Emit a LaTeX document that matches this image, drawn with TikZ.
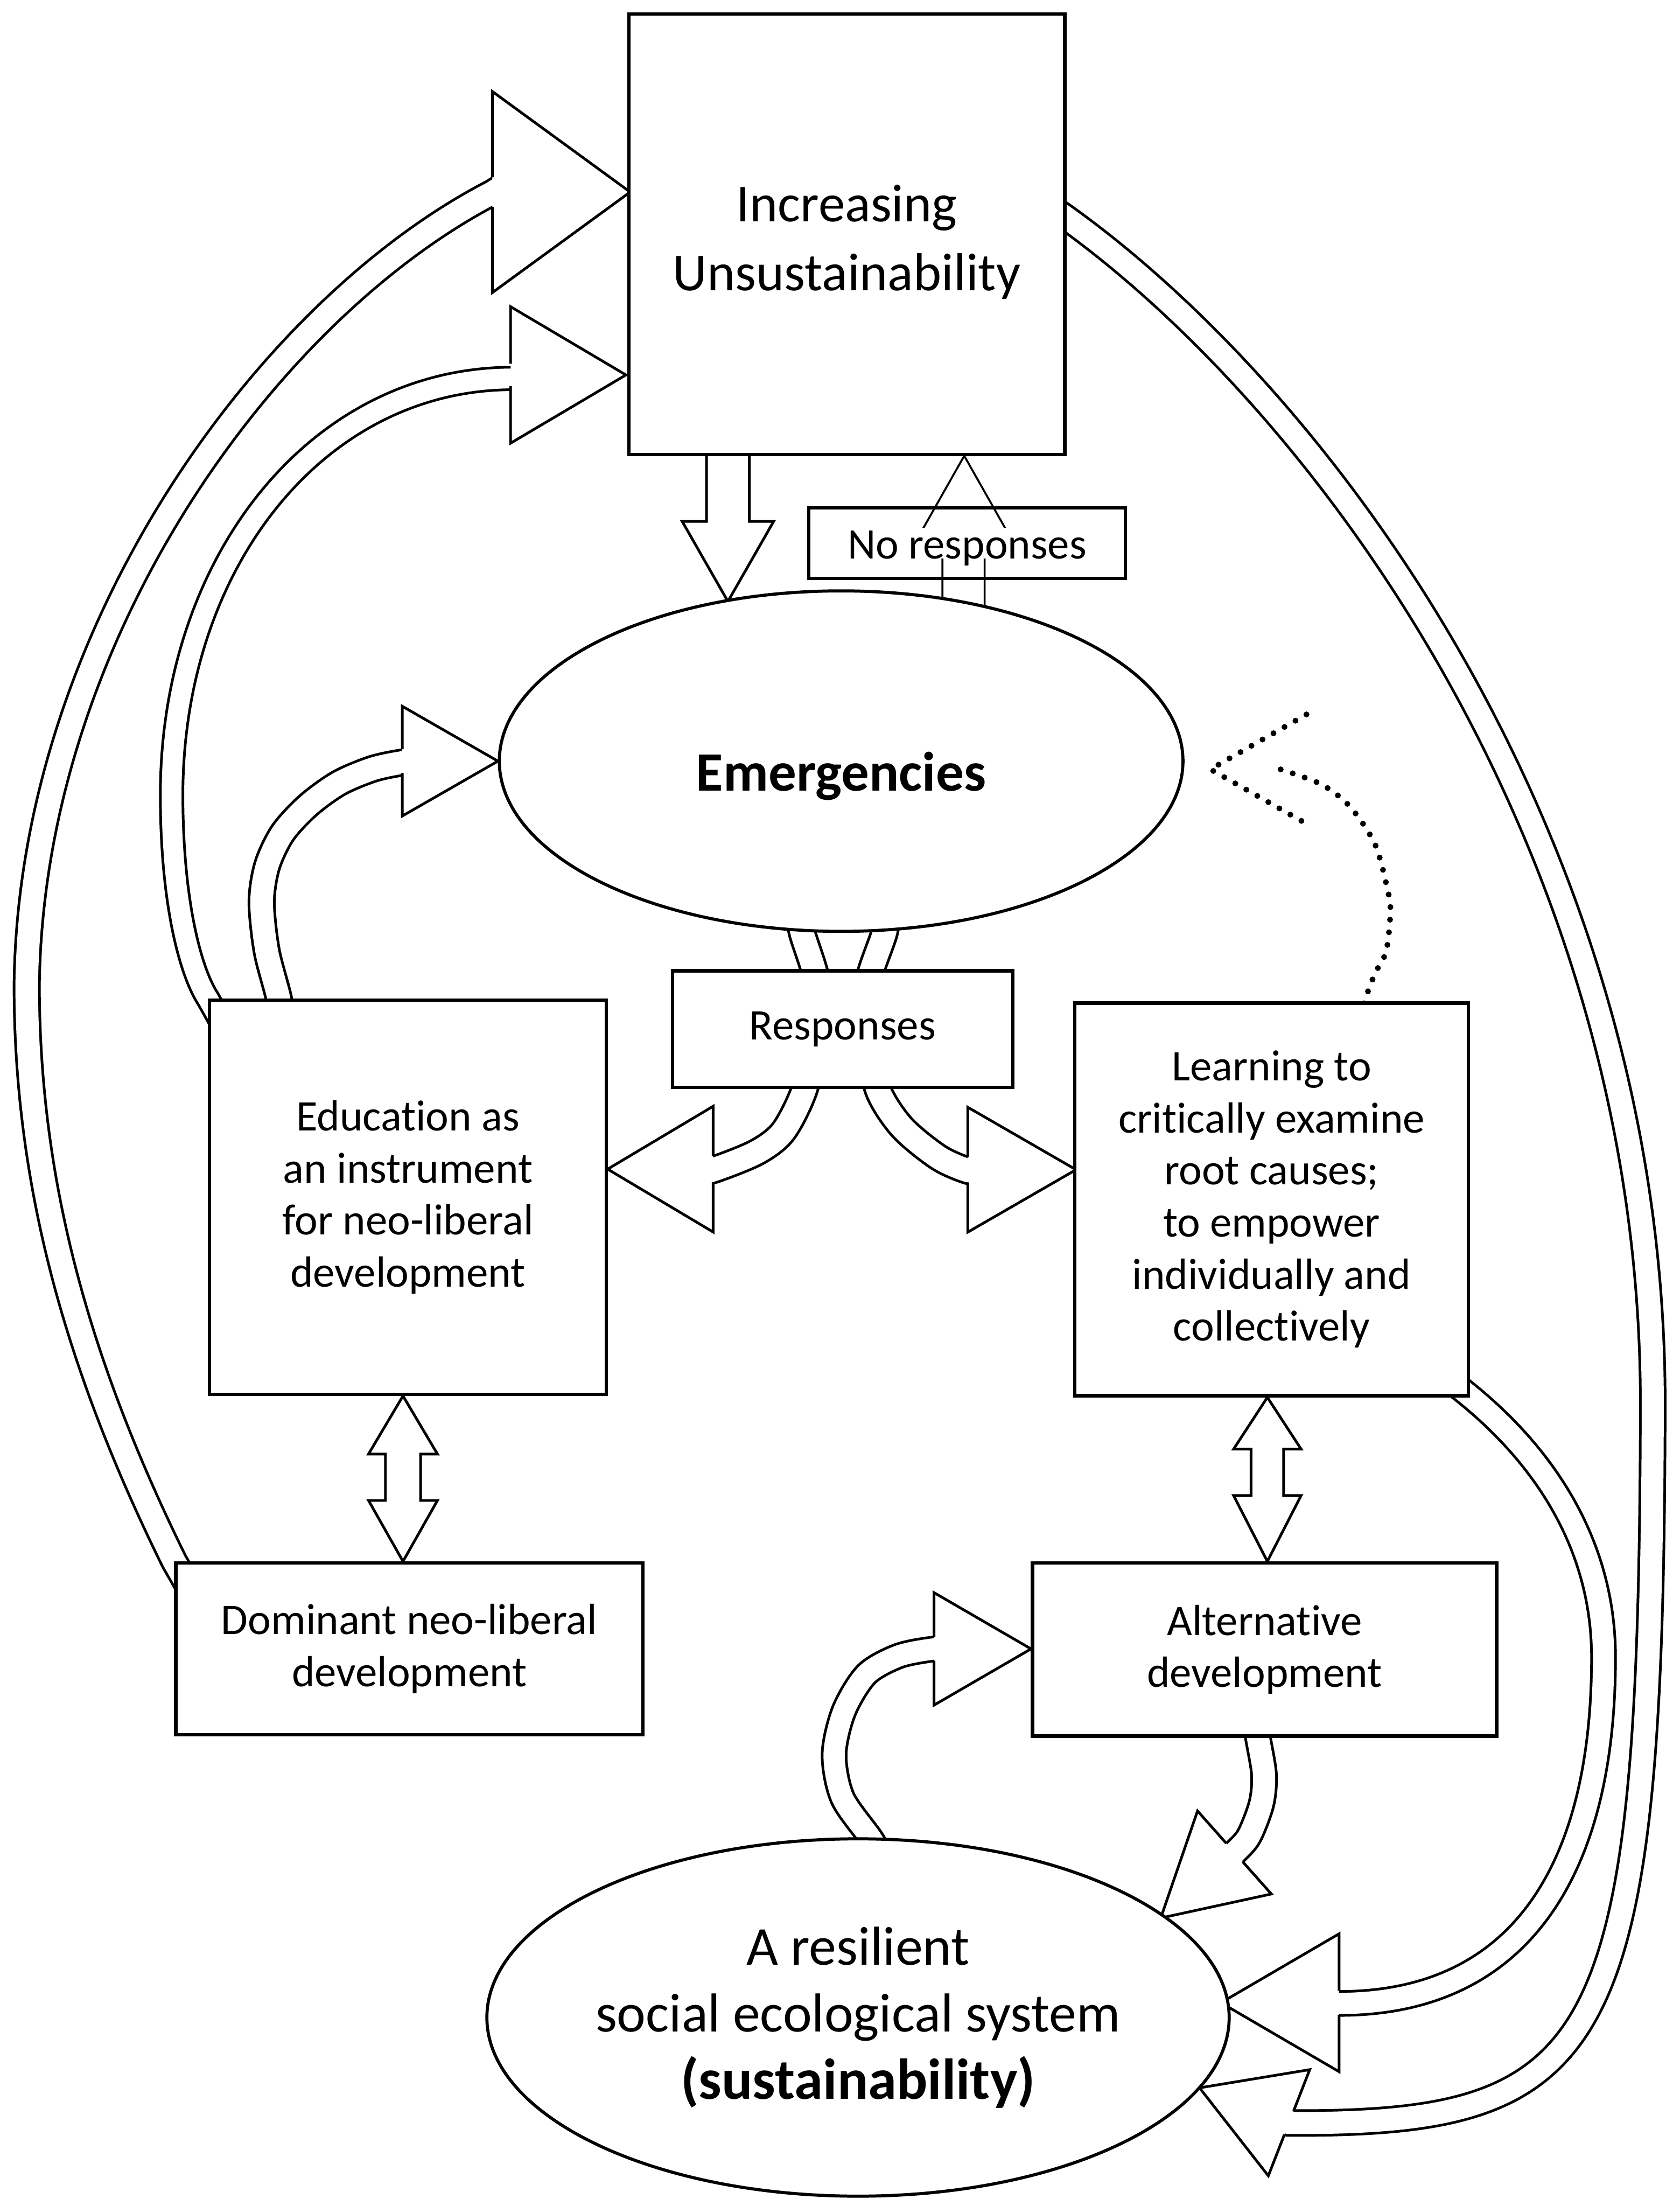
\documentclass[tikz,border=0pt]{standalone}
\usepackage{fontspec}
\setmainfont{Carlito}[Ligatures=NoCommon]
\usetikzlibrary{calc,shapes.geometric}
\pgfdeclarelayer{back}
\pgfsetlayers{back,main}

% outline of a hollow arrow head: #1 base centre, #2 tip, #3 half width, #4 half width of the shaft
\newcommand\hollowhead[4]{%
  \filldraw[headline] ($(#1)!#4pt!90:(#2)$) -- ($(#1)!#3pt!90:(#2)$) -- (#2)
    -- ($(#1)!#3pt!-90:(#2)$) -- ($(#1)!#4pt!-90:(#2)$);}

\tikzset{
  box/.style={draw, line width=2.4pt, fill=white, rectangle, inner sep=0pt,
    align=center, font=\fontsize{31}{37}\selectfont},
  oval/.style={draw, line width=2.2pt, fill=white, ellipse, inner sep=0pt, align=center},
  shaft/.style={draw=black, line width=1.9pt, double=white, double distance=#1},
  headline/.style={draw=black, fill=white, line width=1.9pt, line join=miter},
  blockarrow/.style={draw=black, fill=white, line width=1.9pt, line join=miter},
  dotline/.style={line width=4.2pt, line cap=round, dash pattern=on 0pt off 9pt},
}

\begin{document}
\begin{tikzpicture}[x=1pt,y=-1pt]
\useasboundingbox (0,0) rectangle (1194,1568);

% ---------- nodes ----------
\node[box, minimum width=310pt, minimum height=313pt] (unsus) at (602,166.5) {};
\node[align=center, inner sep=0pt, font=\fontsize{38}{49}\selectfont] (unsustxt) at (602,172)
  {Increasing\\Unsustainability};
\node[oval, minimum width=486pt, minimum height=242pt] (emerg) at (598,541) {};
\node[anchor=base, font=\bfseries\fontsize{39.5}{46}\selectfont] (emergtxt) at (598,562) {Emergencies};
\node[box, fill=none, minimum width=225pt, minimum height=50pt] (nr) at (687.5,386) {};
\node[fill=white, inner sep=0pt, text height=22pt, text depth=0pt,
  font=\fontsize{31}{37}\selectfont] (nrtxt) at (nr.center) {No responses};
\node[box, minimum width=242pt, minimum height=83pt] (resp) at (599,731.5) {Responses};
\node[box, minimum width=282pt, minimum height=280pt] (edu) at (290,851)
  {Education as\\an instrument\\for neo-liberal\\development};
\node[box, minimum width=280pt, minimum height=279pt] (learn) at (904,852.5)
  {Learning to\\critically examine\\root causes;\\to empower\\individually and\\collectively};
\node[box, minimum width=332pt, minimum height=122pt] (dom) at (291,1172)
  {Dominant neo-liberal\\development};
\node[box, minimum width=330pt, minimum height=123pt] (alt) at (899,1172.5)
  {Alternative\\development};
\node[oval, minimum width=516pt, minimum height=254pt, font=\fontsize{39}{47.5}\selectfont]
  (sus) at (610,1434)
  {A resilient\\social ecological system\\{\bfseries\fontsize{41}{47.5}\selectfont(sustainability)}};

% ---------- connectors ----------
\begin{pgfonlayer}{back}
\fill[white] (0,0) rectangle (1194,1568);

% straight block arrows
\draw[blockarrow] (502.3,312) -- (502.3,370.6) -- (485,370.6) -- (517.5,427.5)
  -- (550,370.6) -- (532.7,370.6) -- (532.7,312);
\draw[blockarrow, line width=1.4pt] (670,445) -- (670,392) -- (647,392) -- (685.5,324)
  -- (724,392) -- (700,392) -- (700,445);

% two-headed arrows
\draw[blockarrow] (edu.south -| 286.5,0) -- (311,1033.5) -- (299,1033.5) -- (299,1066.5)
  -- (311,1066.5) -- (dom.north -| 286.5,0) -- (262,1066.5) -- (274,1066.5)
  -- (274,1033.5) -- (262,1033.5) -- cycle;
\draw[blockarrow] (learn.south -| 901,0) -- (925,1030) -- (912.6,1030) -- (912.6,1063)
  -- (925,1063) -- (alt.north -| 901,0) -- (877,1063) -- (889.4,1063)
  -- (889.4,1030) -- (877,1030) -- cycle;

% dominant development -> increasing unsustainability (outer left loop)
\draw[shaft=16.1pt] (140,1138) -- (dom.north west) .. controls (60,980) and (19,850) .. (19,700)
  .. controls (22,450) and (190,220) .. (350,137) -- (362,129.5);
\hollowhead{350,136.5}{448,136.5}{71.5}{10.5}

% education -> increasing unsustainability (inner left loop)
\draw[shaft=14.1pt] (162,735) -- (edu.north west) .. controls (135,690) and (122,640) .. (122,565)
  .. controls (122,400) and (225,270) .. (363,269) -- (375,268.8);
\hollowhead{363,266.5}{445,266.5}{48.5}{8}

% education -> emergencies
\draw[shaft=16.1pt] plot[smooth] coordinates {(201,735) (198.5,711) (189.6,676) (186,641)
  (190,615) (201,592) (219,572.5) (241,556.6) (265,546.5) (286,542) (298,541.5)};
\hollowhead{286,541}{354,541}{39}{8.5}

% responses: emergencies -> education / learning
\draw[shaft=16.5pt] plot[smooth] coordinates {(567,640) (570,662) (581,700) (578,740)
  (572,774) (557,804) (538,819) (507,831.5) (495,833)};
\hollowhead{507,831}{432,831}{44.7}{9.3}
\draw[shaft=16.5pt] plot[smooth] coordinates {(631,640) (629,662) (617,700) (620,740)
  (624,774) (641,801) (667,822.5) (688,832) (700,833)};
\hollowhead{688,831.4}{765,831.4}{44.4}{9}

% resilient system -> alternative development
\draw[shaft=15.1pt] plot[smooth] coordinates {(632,1330) (620,1308) (599,1278) (593,1247)
  (600,1216) (616,1190) (639,1177) (664,1172) (676,1172)};
\hollowhead{664,1172}{733,1172}{40}{8.3}

% alternative development -> resilient system
\draw[shaft=15.7pt] plot[smooth] coordinates {(892,1212) (894,1233) (898.6,1261)
  (896.8,1282) (888,1305) (878,1316.6) (869,1324.6)};
\hollowhead{877.6,1316.7}{825.2,1363.3}{39.5}{8.7}

% learning -> resilient system (inner right loop)
\draw[shaft=15.1pt] (1012,966.5) -- (1037,986) .. controls (1100,1035) and (1140,1100) .. (1140,1178)
  .. controls (1140,1330) and (1080,1424) .. (952,1424) -- (940,1424);
\hollowhead{952,1423.5}{868,1423.5}{49}{8.5}

% increasing unsustainability -> resilient system (outer right loop)
\draw[shaft=15.7pt] (737,140) -- (757,154) .. controls (940,285) and (1176,600) .. (1175,1000)
  .. controls (1174,1460) and (1140,1510) .. (916.4,1509) -- (905,1505);
\hollowhead{916.4,1508.8}{852.8,1484}{40.5}{9}

% learning -> emergencies (dotted)
\draw[dotline] plot[smooth] coordinates {(968,722) (970.4,710.8) (977.5,692) (985.5,676)
  (988.5,648) (986.4,632) (977.5,600) (959.8,573.4) (939.4,557.5) (909.3,546.5)};
\draw[dotline] (928.8,507.8) -- (860.5,546.8) -- (927.9,585);
\end{pgfonlayer}
\end{tikzpicture}
\end{document}
